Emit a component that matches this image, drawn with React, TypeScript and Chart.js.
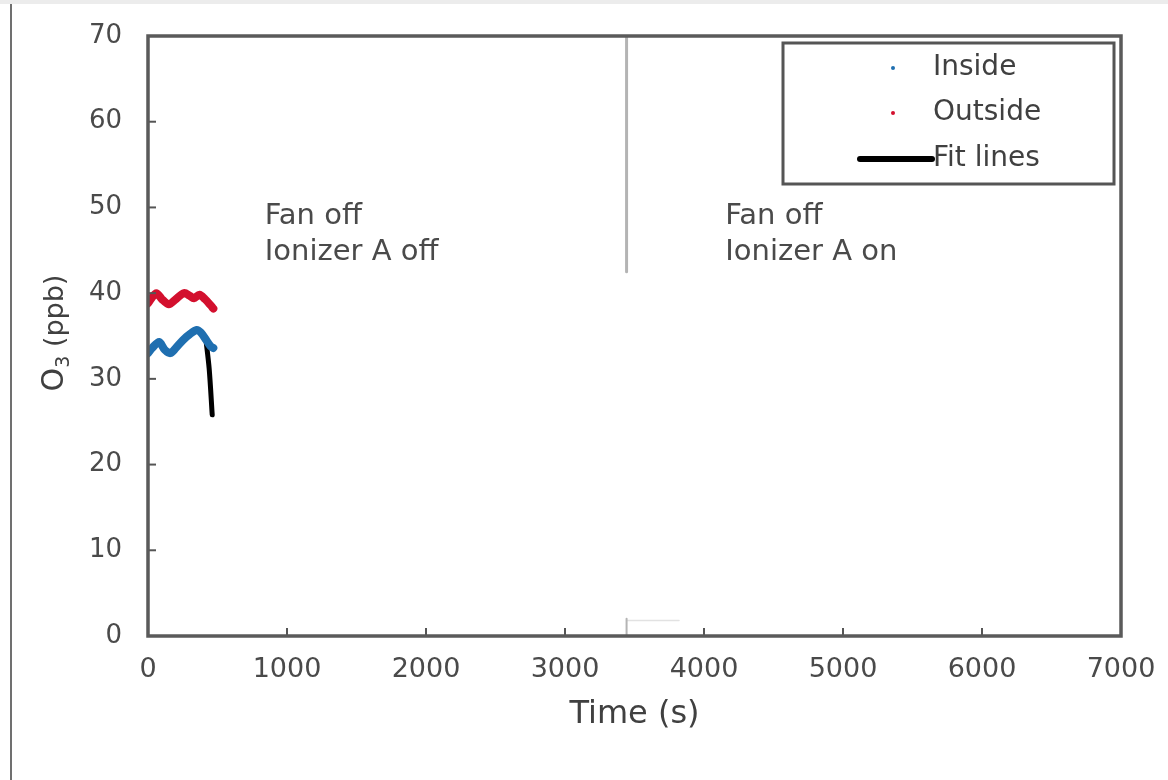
import React, { useEffect, useRef } from "react";
import { Chart, registerables } from "chart.js";

Chart.register(...registerables);

// ---- data ----
const xTickValues = [0, 1000, 2000, 3000, 4000, 5000, 6000, 7000];
const yTickValues = [0, 10, 20, 30, 40, 50, 60, 70];

const insideTime = [0, 30, 80, 120, 160, 200, 250, 300, 350, 380, 420, 450, 470];
const insideO3 = [33.0, 33.6, 34.3, 33.4, 33.0, 33.6, 34.5, 35.2, 35.7, 35.4, 34.5, 33.8, 33.6];

const outsideTime = [0, 20, 60, 100, 150, 200, 260, 300, 330, 370, 410, 450, 470];
const outsideO3 = [38.8, 39.3, 40.0, 39.3, 38.7, 39.3, 40.0, 39.7, 39.4, 39.8, 39.3, 38.6, 38.2];

const fitTime = [415, 440, 462];
const fitO3 = [34.8, 31.2, 25.8];

const dividerTime = 3443;
const dividerUpperO3 = [70, 42.5];
const dividerLowerO3 = [0, 2];
const baseMarkTime = [3443, 3820];
const baseMarkO3 = [1.8, 1.8];

const annotationTimes = [840, 4153];
const annotationLines = [
  ["Fan off", "Ionizer A off"],
  ["Fan off", "Ionizer A on"],
];
const annotationO3 = [48.9, 44.8];

const legendNames = ["Inside", "Outside", "Fit lines"];
const seriesColors = ["#1f6fb0", "#d3102e", "#000000"];

const FONT = "'DejaVu Sans', 'Open Sans', sans-serif";

function toPoints(xs: number[], ys: number[]) {
  return xs.map((x, i) => ({ x, y: ys[i] }));
}

const decorPlugin = {
  id: "decor",
  afterDatasetsDraw(chart: any) {
    const { ctx, chartArea, scales } = chart;
    const { left, right, top, bottom } = chartArea;
    ctx.save();
    // inward ticks
    ctx.strokeStyle = "#555";
    ctx.lineWidth = 2;
    xTickValues.forEach((v) => {
      const x = scales.x.getPixelForValue(v);
      ctx.beginPath();
      ctx.moveTo(x, bottom);
      ctx.lineTo(x, bottom - 8);
      ctx.stroke();
    });
    yTickValues.forEach((v) => {
      const y = scales.y.getPixelForValue(v);
      ctx.beginPath();
      ctx.moveTo(left, y);
      ctx.lineTo(left + 8, y);
      ctx.stroke();
    });
    // plot box
    ctx.strokeStyle = "#5a5a5a";
    ctx.lineWidth = 3.5;
    ctx.strokeRect(left, top, right - left, bottom - top);
    ctx.restore();
  },
  afterDraw(chart: any) {
    const { ctx, chartArea, scales } = chart;
    ctx.save();
    // annotations
    ctx.fillStyle = "#4a4a4a";
    ctx.font = `29px ${FONT}`;
    ctx.textAlign = "left";
    ctx.textBaseline = "middle";
    annotationTimes.forEach((t, i) => {
      const x = scales.x.getPixelForValue(t);
      annotationLines[i].forEach((line, j) => {
        ctx.fillText(line, x, scales.y.getPixelForValue(annotationO3[j]));
      });
    });

    // y title with subscript
    const cy = (chartArea.top + chartArea.bottom) / 2 - 3;
    ctx.translate(53, cy);
    ctx.rotate(-Math.PI / 2);
    ctx.fillStyle = "#404040";
    ctx.textBaseline = "alphabetic";
    const partO = "O";
    const partSub = "3";
    const partRest = " (ppb)";
    ctx.font = `30px ${FONT}`;
    const wO = ctx.measureText(partO).width;
    ctx.font = `19px ${FONT}`;
    const wS = ctx.measureText(partSub).width;
    ctx.font = `27px ${FONT}`;
    const wR = ctx.measureText(partRest).width;
    let sx = -(wO + wS + wR) / 2;
    const base = 10;
    ctx.font = `30px ${FONT}`;
    ctx.fillText(partO, sx, base);
    sx += wO;
    ctx.font = `19px ${FONT}`;
    ctx.fillText(partSub, sx, base + 6);
    sx += wS;
    ctx.font = `27px ${FONT}`;
    ctx.fillText(partRest, sx, base);
    ctx.setTransform(1, 0, 0, 1, 0, 0);

    // legend box
    const lx = 783, ly = 43, lw = 331, lh = 141;
    ctx.fillStyle = "#ffffff";
    ctx.fillRect(lx, ly, lw, lh);
    ctx.strokeStyle = "#555";
    ctx.lineWidth = 3;
    ctx.strokeRect(lx, ly, lw, lh);
    ctx.font = `28px ${FONT}`;
    ctx.textAlign = "left";
    ctx.textBaseline = "middle";
    const rowY = [68, 113, 159];
    legendNames.forEach((name, i) => {
      ctx.fillStyle = "#404040";
      ctx.fillText(name, 933, rowY[i]);
      if (i < 2) {
        ctx.fillStyle = seriesColors[i];
        ctx.beginPath();
        ctx.arc(893, rowY[i], 2, 0, Math.PI * 2);
        ctx.fill();
      } else {
        ctx.strokeStyle = seriesColors[i];
        ctx.lineWidth = 6;
        ctx.lineCap = "round";
        ctx.beginPath();
        ctx.moveTo(860, rowY[i]);
        ctx.lineTo(932, rowY[i]);
        ctx.stroke();
      }
    });
    ctx.restore();
  },
};

export default function App() {
  const canvasRef = useRef<HTMLCanvasElement | null>(null);

  useEffect(() => {
    if (!canvasRef.current) return;
    const lineDs = (label: string, pts: any[], color: string, width: number) => ({
      label,
      data: pts,
      showLine: true,
      borderColor: color,
      backgroundColor: color,
      borderWidth: width,
      pointRadius: 0,
      tension: 0.3,
      borderCapStyle: "round",
      borderJoinStyle: "round",
    });
    const chart = new Chart(canvasRef.current, {
      type: "scatter",
      data: {
        datasets: [
          lineDs("divider", toPoints([dividerTime, dividerTime], dividerUpperO3), "#b4b4b4", 3),
          lineDs("dividerLow", toPoints([dividerTime, dividerTime], dividerLowerO3), "#b4b4b4", 2),
          lineDs("baseMark", toPoints(baseMarkTime, baseMarkO3), "#e2e2e2", 1.5),
          lineDs("Outside", toPoints(outsideTime, outsideO3), seriesColors[1], 8),
          lineDs("Inside", toPoints(insideTime, insideO3), seriesColors[0], 8),
          lineDs("Fit lines", toPoints(fitTime, fitO3), seriesColors[2], 5),
        ] as any,
      },
      options: {
        animation: false,
        responsive: false,
        maintainAspectRatio: false,
        layout: { padding: { left: 0, top: 36, right: 47, bottom: 0 } },
        plugins: {
          legend: { display: false },
          tooltip: { enabled: false },
        },
        scales: {
          x: {
            type: "linear",
            min: 0,
            max: 7000,
            afterFit: (s: any) => {
              s.height = 144;
              s.paddingLeft = 0;
              s.paddingRight = 0;
              s.paddingTop = 0;
              s.paddingBottom = 0;
            },
            afterBuildTicks: (s: any) => {
              s.ticks = xTickValues.map((v) => ({ value: v }));
            },
            ticks: {
              padding: 18,
              color: "#4a4a4a",
              font: { family: FONT, size: 27 },
              maxRotation: 0,
              autoSkip: false,
              callback: (v: any) => String(v),
            },
            grid: { display: false, drawTicks: false },
            border: { display: false },
            title: {
              display: true,
              text: "Time (s)",
              color: "#404040",
              font: { family: FONT, size: 32 },
              padding: { top: 0, bottom: 46 },
            },
          },
          y: {
            type: "linear",
            min: 0,
            max: 70,
            afterFit: (s: any) => {
              s.width = 148;
              s.paddingLeft = 0;
              s.paddingRight = 0;
              s.paddingTop = 0;
              s.paddingBottom = 0;
            },
            afterBuildTicks: (s: any) => {
              s.ticks = yTickValues.map((v) => ({ value: v }));
            },
            ticks: {
              padding: 26,
              color: "#4a4a4a",
              font: { family: FONT, size: 26 },
              autoSkip: false,
              callback: (v: any) => String(v),
            },
            grid: { display: false, drawTicks: false },
            border: { display: false },
          },
        },
      } as any,
      plugins: [decorPlugin],
    });
    return () => chart.destroy();
  }, []);

  return (
    <div
      style={{
        position: "fixed",
        left: 0,
        top: 0,
        width: 1168,
        height: 780,
        background: "#ffffff",
        overflow: "hidden",
      }}
    >
      <canvas
        ref={canvasRef}
        width={1168}
        height={780}
        style={{ position: "absolute", left: 0, top: 0, width: 1168, height: 780 }}
      />
      <div style={{ position: "absolute", left: 0, top: 0, width: 1168, height: 4, background: "#ececec" }} />
      <div style={{ position: "absolute", left: 10, top: 4, width: 2, height: 776, background: "#707070" }} />
    </div>
  );
}
